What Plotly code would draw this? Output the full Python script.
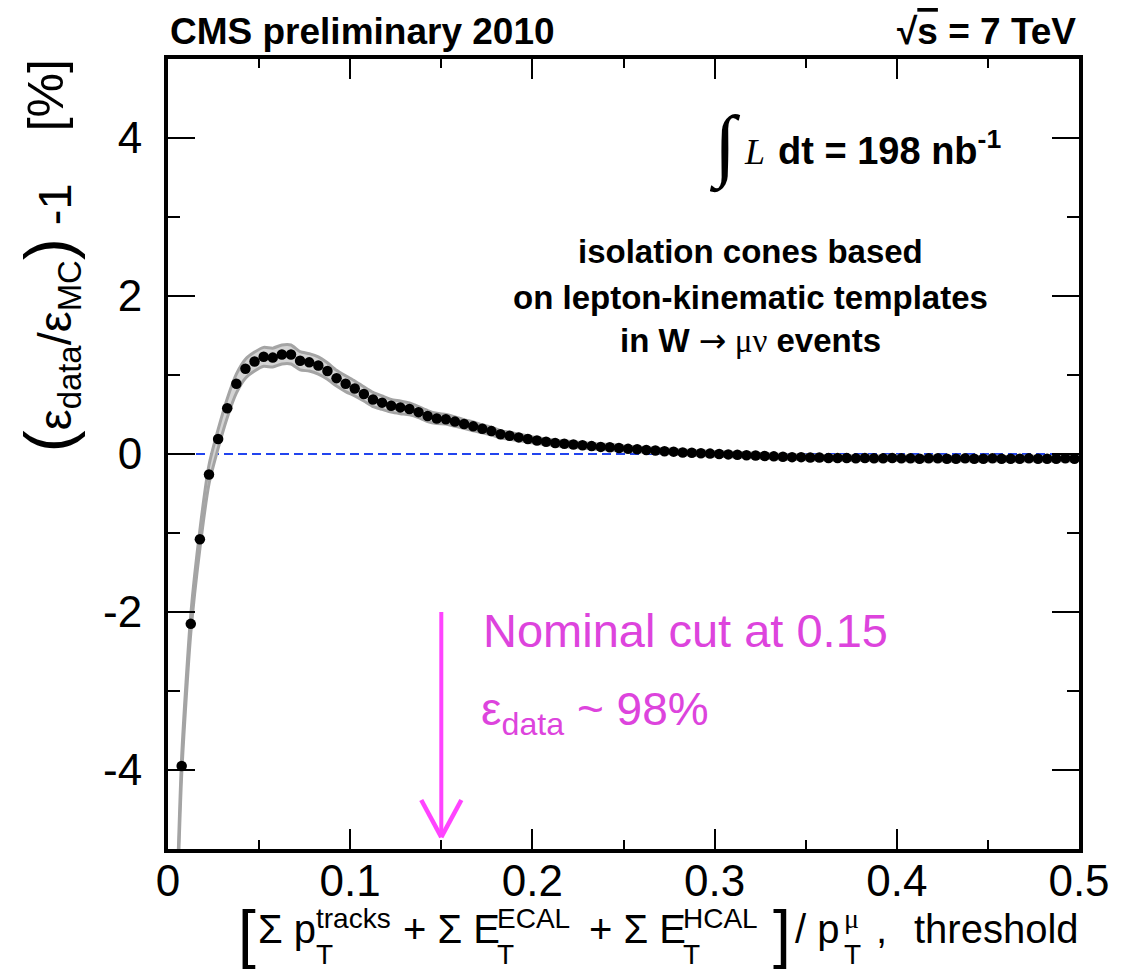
import plotly.graph_objects as go

# isolation threshold bin centres
threshold = [
    0.0025, 0.0075, 0.0125, 0.0175, 0.0225, 0.0275, 0.0325, 0.0375, 0.0425, 0.0475,
    0.0525, 0.0575, 0.0625, 0.0675, 0.0725, 0.0775, 0.0825, 0.0875, 0.0925, 0.0975,
    0.1025, 0.1075, 0.1125, 0.1175, 0.1225, 0.1275, 0.1325, 0.1375, 0.1425, 0.1475,
    0.1525, 0.1575, 0.1625, 0.1675, 0.1725, 0.1775, 0.1825, 0.1875, 0.1925, 0.1975,
    0.2025, 0.2075, 0.2125, 0.2175, 0.2225, 0.2275, 0.2325, 0.2375, 0.2425, 0.2475,
    0.2525, 0.2575, 0.2625, 0.2675, 0.2725, 0.2775, 0.2825, 0.2875, 0.2925, 0.2975,
    0.3025, 0.3075, 0.3125, 0.3175, 0.3225, 0.3275, 0.3325, 0.3375, 0.3425, 0.3475,
    0.3525, 0.3575, 0.3625, 0.3675, 0.3725, 0.3775, 0.3825, 0.3875, 0.3925, 0.3975,
    0.4025, 0.4075, 0.4125, 0.4175, 0.4225, 0.4275, 0.4325, 0.4375, 0.4425, 0.4475,
    0.4525, 0.4575, 0.4625, 0.4675, 0.4725, 0.4775, 0.4825, 0.4875, 0.4925, 0.4975,
]

# (eff_data / eff_MC) - 1 in percent
ratio_pct = [
    -7.6, -3.95, -2.15, -1.08, -0.26, 0.19, 0.58, 0.89, 1.08, 1.17,
    1.23, 1.22, 1.26, 1.26, 1.18, 1.16, 1.12, 1.05, 0.96, 0.89,
    0.83, 0.76, 0.69, 0.65, 0.61, 0.59, 0.57, 0.53, 0.48, 0.45,
    0.44, 0.41, 0.38, 0.35, 0.32, 0.29, 0.25, 0.23, 0.21, 0.19,
    0.17, 0.155, 0.14, 0.13, 0.12, 0.11, 0.10, 0.09, 0.085, 0.075,
    0.065, 0.06, 0.05, 0.045, 0.035, 0.03, 0.02, 0.015, 0.01, 0.005,
    0.0, -0.005, -0.01, -0.015, -0.02, -0.025, -0.03, -0.035, -0.04, -0.04,
    -0.045, -0.045, -0.05, -0.05, -0.05, -0.055, -0.05, -0.055, -0.055, -0.05,
    -0.055, -0.055, -0.06, -0.055, -0.055, -0.06, -0.06, -0.055, -0.06, -0.06,
    -0.055, -0.06, -0.06, -0.06, -0.055, -0.06, -0.06, -0.06, -0.055, -0.06,
]

# half-width of the grey uncertainty band (percent)
band_halfwidth = [
    0.12, 0.12, 0.12, 0.12, 0.12, 0.12, 0.12, 0.12, 0.12, 0.12,
    0.12, 0.12, 0.12, 0.12, 0.115, 0.11, 0.11, 0.105, 0.10, 0.10,
    0.095, 0.09, 0.09, 0.085, 0.08, 0.08, 0.075, 0.07, 0.07, 0.065,
    0.06, 0.06, 0.055, 0.055, 0.05, 0.05, 0.045, 0.045, 0.04, 0.04,
    0.035, 0.035, 0.035, 0.035, 0.035, 0.035, 0.035, 0.035, 0.035, 0.035,
    0.03, 0.03, 0.03, 0.03, 0.03, 0.03, 0.03, 0.03, 0.03, 0.03,
    0.03, 0.03, 0.03, 0.03, 0.03, 0.03, 0.03, 0.03, 0.03, 0.03,
    0.03, 0.03, 0.03, 0.03, 0.03, 0.03, 0.03, 0.03, 0.03, 0.03,
    0.03, 0.03, 0.03, 0.03, 0.03, 0.03, 0.03, 0.03, 0.03, 0.03,
    0.03, 0.03, 0.03, 0.03, 0.03, 0.03, 0.03, 0.03, 0.03, 0.03,
]

x_tickvals = [0, 0.1, 0.2, 0.3, 0.4, 0.5]
x_ticktext = ["0", "0.1", "0.2", "0.3", "0.4", "0.5"]
y_tickvals = [-4, -2, 0, 2, 4]
y_ticktext = ["-4", "-2", "0", "2", "4"]

nominal_cut = 0.15
cut_label = "Nominal cut at 0.15"
eff_label = "98%"

# ---- figure geometry (pixels) ----
FIG_W, FIG_H = 1122, 971
L, R, T, B = 168, 33, 59, 122
PW, PH = FIG_W - L - R, FIG_H - T - B

SANS = "Liberation Sans, Arial, Helvetica, sans-serif"
SERIF = "Liberation Serif, Times New Roman, serif"
MAGENTA_TXT = "#dd44dd"
MAGENTA_ARR = "#ff44ff"


def fx(px):
    return (px - L) / PW


def fy(py):
    return (T + PH - py) / PH


band_lo = [r - h for r, h in zip(ratio_pct, band_halfwidth)]
band_hi = [r + h for r, h in zip(ratio_pct, band_halfwidth)]

fig = go.Figure()

# zero reference
fig.add_trace(go.Scatter(
    x=[x_tickvals[0], x_tickvals[-1]], y=[0, 0], mode="lines",
    line=dict(color="#2244ee", width=1.8, dash="9px,5px"),
    hoverinfo="skip", showlegend=False,
))

# grey band
fig.add_trace(go.Scatter(
    x=threshold, y=band_lo, mode="lines",
    line=dict(color="#a4a4a4", width=3, shape="spline", smoothing=0.6),
    hoverinfo="skip", showlegend=False,
))
fig.add_trace(go.Scatter(
    x=threshold, y=band_hi, mode="lines", fill="tonexty", fillcolor="#d4d4d4",
    line=dict(color="#a4a4a4", width=3, shape="spline", smoothing=0.6),
    hoverinfo="skip", showlegend=False,
))

# measured points
fig.add_trace(go.Scatter(
    x=threshold, y=ratio_pct, mode="markers",
    marker=dict(color="black", size=10.5, line=dict(width=0)),
    showlegend=False,
))

# nominal-cut arrow
arrow_top, arrow_tip, head_y, head_dx = -2.0, -4.85, -4.38, 0.011
fig.add_shape(type="line", x0=nominal_cut, x1=nominal_cut, y0=arrow_top, y1=arrow_tip,
              line=dict(color=MAGENTA_ARR, width=4))
fig.add_shape(type="line", x0=nominal_cut - head_dx, x1=nominal_cut, y0=head_y, y1=arrow_tip,
              line=dict(color=MAGENTA_ARR, width=4.5))
fig.add_shape(type="line", x0=nominal_cut + head_dx, x1=nominal_cut, y0=head_y, y1=arrow_tip,
              line=dict(color=MAGENTA_ARR, width=4.5))

ann = []


def text(px, py, s, size, color="black", family=SANS, xanchor="left", angle=0):
    ann.append(dict(
        x=fx(px), y=fy(py), xref="paper", yref="paper", text=s, showarrow=False,
        xanchor=xanchor, yanchor="middle", textangle=angle, align="left",
        font=dict(family=family, size=size, color=color),
    ))


# header
text(168, 31, "<b>CMS preliminary 2010</b>", 37)
text(1088, 31, "<b>√<span style='text-decoration:overline'>s</span> = 7 TeV</b>", 37, xanchor="right")

# luminosity
text(713, 146, "∫", 80, family=SERIF)
text(748, 152, "<i>L</i>", 36, family=SERIF)
text(783, 148, "<b>dt = 198 nb<sup>-1</sup></b>", 38)

# selection description
text(757, 252, "<b>isolation cones based</b>", 33, xanchor="center")
text(757, 297, "<b>on lepton-kinematic templates</b>", 33, xanchor="center")
text(757, 340,
     "<b>in W </b><span style='font-family:DejaVu Sans'>→</span>"
     "<span style='font-family:Liberation Serif'> μν</span><b> events</b>",
     33, xanchor="center")

# nominal cut annotation
text(484, 630, cut_label, 47, color=MAGENTA_TXT)
text(482, 712, "ε<sub>data</sub> ~ " + eff_label, 46, color=MAGENTA_TXT)

# y-axis title
text(48, 318,
     "<span style='font-size:66px'>(</span>ε<sub>data</sub>/ε<sub>MC</sub>"
     "<span style='font-size:66px'>)</span> -1",
     47, xanchor="center", angle=-90)
text(45, 95, "[%]", 50, xanchor="center", angle=-90)

# x-axis title, assembled piece by piece (stacked super/subscripts as two-line blocks)
MAIN, IDX, BR = 40, 28, 64
YM, YIDX, YBR = 929, 937, 934
text(237, YBR, "[", BR)
text(257, YM, "Σ p", MAIN)
text(316, YIDX, "tracks<br>T", IDX)
text(404, YM, "+ Σ E", MAIN)
text(499, YIDX, "ECAL<br>T", IDX)
text(592, YM, "+ Σ E", MAIN)
text(687, YIDX, "HCAL<br>T", IDX)
text(778, YBR, "]", BR)
text(800, YM, "/ p", MAIN)
text(849, YIDX, "<span style='font-family:Liberation Serif'>μ</span><br>T", IDX)
text(882, YM, ",", MAIN)
text(920, YM, "threshold", MAIN)

fig.update_layout(
    width=FIG_W, height=FIG_H,
    margin=dict(l=L, r=R, t=T, b=B, pad=0),
    paper_bgcolor="white", plot_bgcolor="white",
    annotations=ann,
    xaxis=dict(
        range=[0, 0.5], showgrid=False, zeroline=False,
        showline=True, linewidth=4, linecolor="black", mirror="allticks",
        tickmode="array", tickvals=x_tickvals, ticktext=x_ticktext,
        ticks="inside", ticklen=20, tickwidth=1.5, tickcolor="black",
        ticklabelstandoff=-10,
        minor=dict(tickmode="linear", tick0=0, dtick=0.05, ticks="inside",
                   ticklen=9, tickwidth=1.5, tickcolor="black"),
        tickfont=dict(family=SANS, size=44, color="black"),
    ),
    yaxis=dict(
        range=[-5, 5], showgrid=False, zeroline=False,
        showline=True, linewidth=4, linecolor="black", mirror="allticks",
        tickmode="array", tickvals=y_tickvals, ticktext=y_ticktext,
        ticks="inside", ticklen=27, tickwidth=1.5, tickcolor="black",
        ticklabelstandoff=13,
        minor=dict(tickmode="linear", tick0=0, dtick=1, ticks="inside",
                   ticklen=12, tickwidth=1.5, tickcolor="black"),
        tickfont=dict(family=SANS, size=44, color="black"),
    ),
)

fig.write_html("out.html")
